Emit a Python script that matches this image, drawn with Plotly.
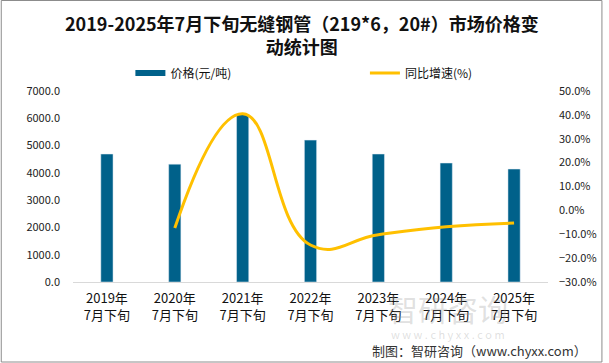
import plotly.graph_objects as go

categories = ["2019年<br>7月下旬", "2020年<br>7月下旬", "2021年<br>7月下旬", "2022年<br>7月下旬",
              "2023年<br>7月下旬", "2024年<br>7月下旬", "2025年<br>7月下旬"]
price = [4690, 4320, 6150, 5200, 4690, 4360, 4140]
growth = [None, -7.4, 40.5, -14.5, -10.2, -6.9, -5.3]

FONT = "Noto Sans CJK SC"
W, H = 609, 363
L, R, T, B = 73, 56, 91, 81
pw, ph = W - L - R, H - T - B

def px(x):
    return (x - L) / pw

def py(y):
    return (H - B - y) / ph

fig = go.Figure()
fig.add_trace(go.Bar(x=categories, y=price, marker_color="#00618A", width=0.18,
                     showlegend=False, yaxis="y"))
fig.add_trace(go.Scatter(x=[None], y=[None], mode="lines", name="价格(元/吨)",
                         line=dict(color="#00618A", width=6), legend="legend"))
fig.add_trace(go.Scatter(x=categories, y=growth, mode="lines", name="同比增速(%)",
                         line=dict(color="#FFC000", width=3, shape="spline", smoothing=1.3),
                         yaxis="y2", legend="legend2", connectgaps=False))

fig.update_layout(
    width=W, height=H,
    margin=dict(l=L, r=R, t=T, b=B),
    paper_bgcolor="white", plot_bgcolor="white",
    font=dict(family=FONT, color="#222", size=11),
    xaxis=dict(showline=True, linecolor="#d9d9d9", linewidth=1, ticks="",
               tickfont=dict(size=13, color="#111"), showgrid=False,
               ticklabelstandoff=4),
    yaxis=dict(range=[0, 7000], dtick=1000, tickformat=".1f", showgrid=False,
               zeroline=False, tickfont=dict(size=11, color="#222"),
               ticklabelstandoff=12),
    yaxis2=dict(range=[-30, 50], dtick=10, tickformat=".1f", ticksuffix="%",
                overlaying="y", side="right", showgrid=False, zeroline=False,
                tickfont=dict(size=11, color="#222"), ticklabelstandoff=10),
    legend=dict(x=px(131), y=py(73), xanchor="left", yanchor="middle",
                orientation="h", font=dict(size=12, color="#111"), itemwidth=30,
                bgcolor="rgba(0,0,0,0)"),
    legend2=dict(x=px(368), y=py(73), xanchor="left", yanchor="middle",
                 orientation="h", font=dict(size=12, color="#111"), itemwidth=30,
                 bgcolor="rgba(0,0,0,0)"),
    bargap=0.8,
)

fig.add_annotation(text="<b>2019-2025年7月下旬无缝钢管（219*6，20#）市场价格变<br>动统计图</b>",
                   xref="paper", yref="paper", x=px(304), y=py(35), xanchor="center",
                   yanchor="middle", showarrow=False,
                   font=dict(family=FONT, size=18, color="#111"))
fig.add_annotation(text="制图：智研咨询（www.chyxx.com）", xref="paper", yref="paper",
                   x=px(594), y=py(350), xanchor="right", yanchor="middle",
                   showarrow=False, font=dict(size=13, color="#333"))
fig.add_annotation(text="智研咨询", xref="paper", yref="paper",
                   x=px(515), y=py(308), xanchor="right", yanchor="middle",
                   showarrow=False, font=dict(size=30, color="rgba(150,150,150,0.3)"))
fig.add_annotation(text="w w w . c h y x x . c o m", xref="paper", yref="paper",
                   x=px(512), y=py(334), xanchor="right", yanchor="middle",
                   showarrow=False, font=dict(size=11, color="rgba(150,150,150,0.3)"))

fig.add_shape(type="rect", xref="paper", yref="paper",
              x0=px(0.5), x1=px(607.5), y0=py(362), y1=py(0.5),
              line=dict(color="#8c8c8c", width=1), fillcolor="rgba(0,0,0,0)", layer="below")

fig.write_html("out.html", config={"displayModeBar": False},
               post_script="document.body.style.margin='0';document.body.style.padding='0';")
